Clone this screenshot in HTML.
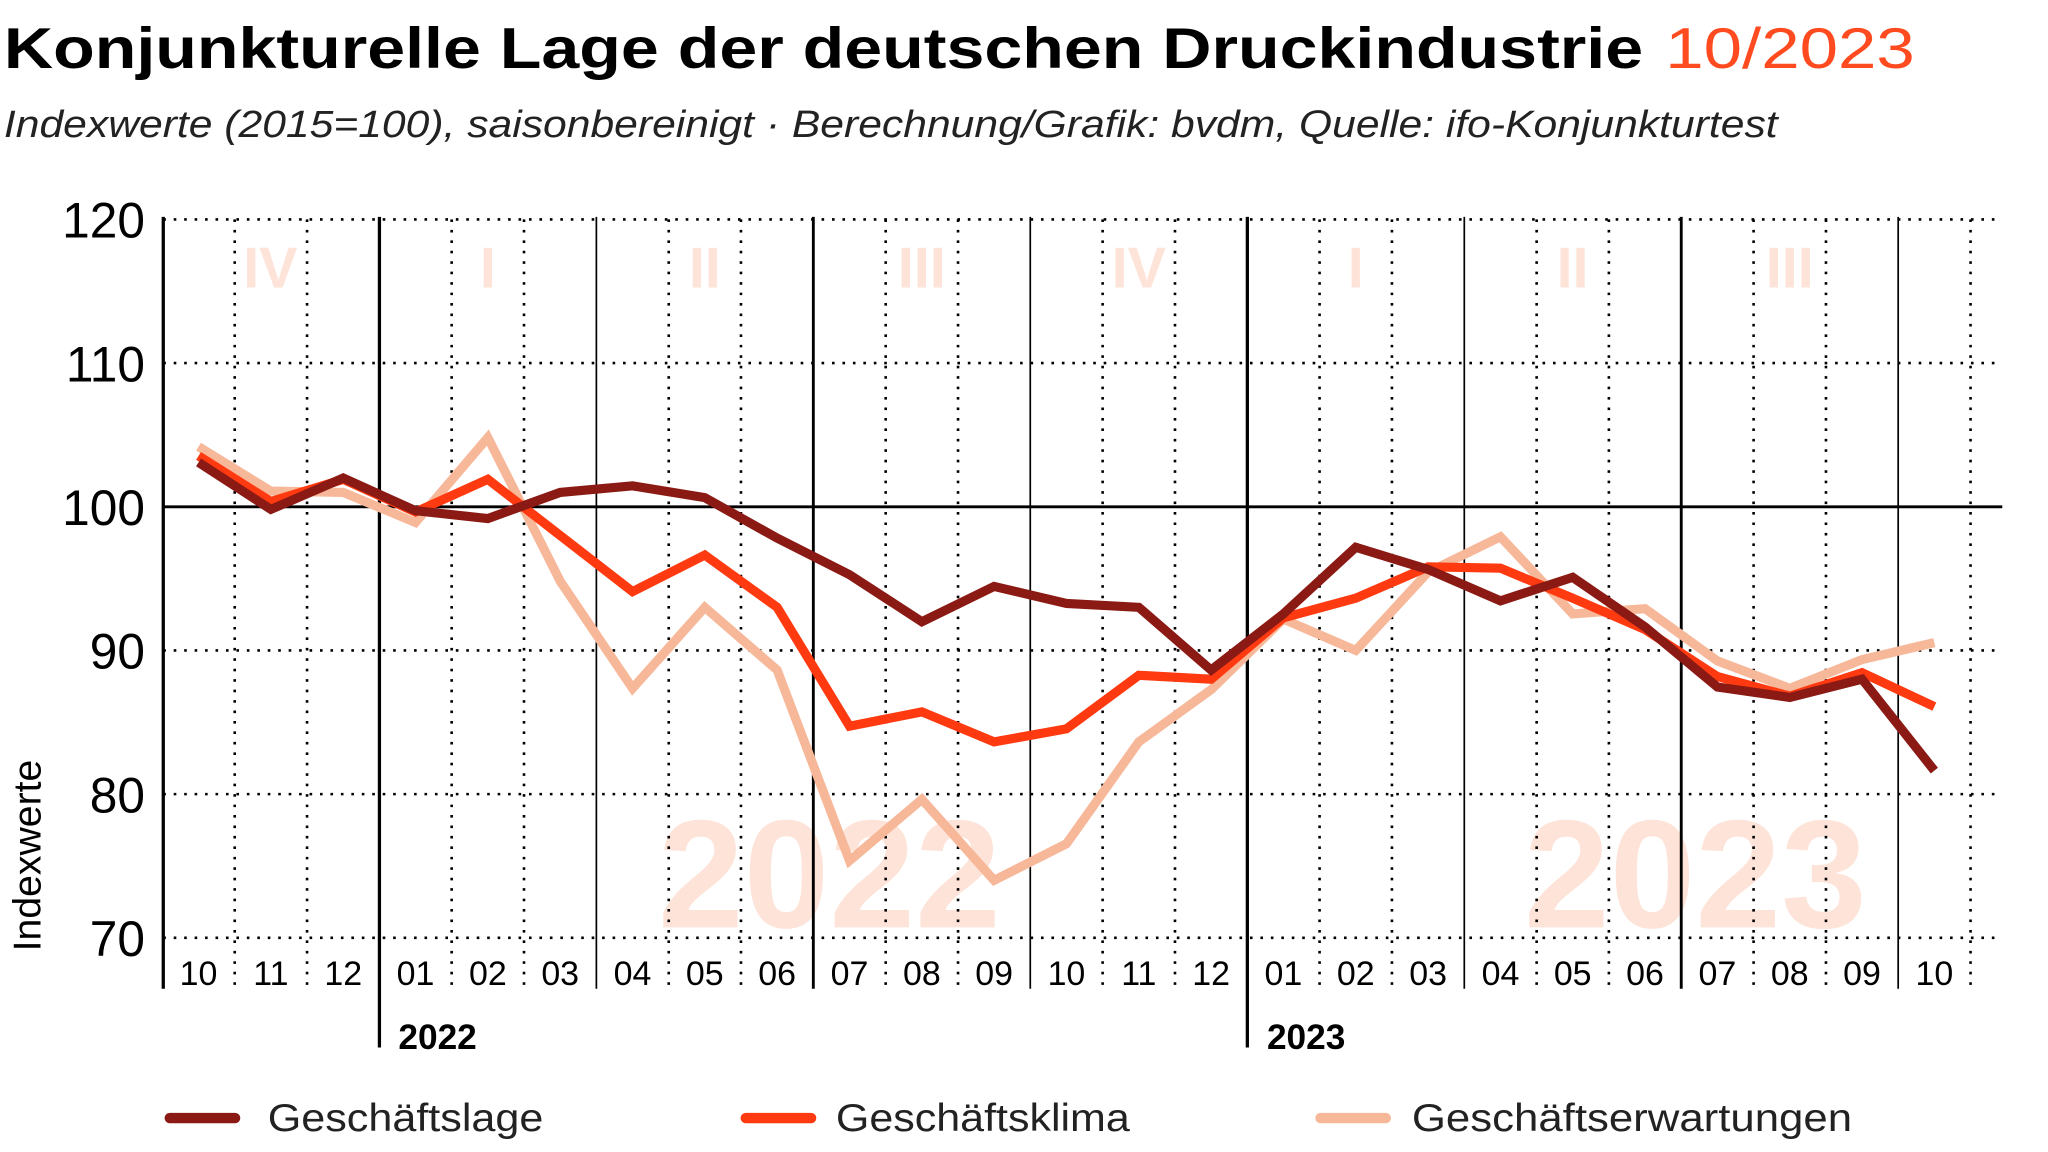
<!DOCTYPE html>
<html><head><meta charset="utf-8"><style>
html,body{margin:0;padding:0;background:#fff;width:2048px;height:1152px;overflow:hidden}
svg{display:block}
text{font-family:"Liberation Sans",sans-serif}
</style></head><body>
<svg width="2048" height="1152" viewBox="0 0 1568 882" preserveAspectRatio="none" xmlns="http://www.w3.org/2000/svg">
<text x="3" y="52" font-size="44" font-weight="bold" fill="#000" textLength="1255" lengthAdjust="spacingAndGlyphs">Konjunkturelle Lage der deutschen Druckindustrie</text>
<text x="1275" y="52" font-size="44" fill="#ff4b1f" textLength="191" lengthAdjust="spacingAndGlyphs">10/2023</text>
<text x="3" y="105" font-size="29" font-style="italic" fill="#222" textLength="1358" lengthAdjust="spacingAndGlyphs">Indexwerte (2015=100), saisonbereinigt · Berechnung/Grafik: bvdm, Quelle: ifo-Konjunkturtest</text>

<g fill="#fde3d8" font-weight="bold" text-anchor="middle">
<text x="635" y="710" font-size="118">2022</text>
<text x="1298" y="710" font-size="118">2023</text>
<g font-size="44">
<text x="207" y="220">IV</text><text x="373.5" y="220">I</text><text x="539.6" y="220">II</text><text x="705.8" y="220">III</text>
<text x="871.9" y="220">IV</text><text x="1038" y="220">I</text><text x="1204" y="220">II</text><text x="1370.3" y="220">III</text>
</g></g>

<g stroke="#000" stroke-width="2" stroke-dasharray="2 6">
<line x1="125" y1="168" x2="1533" y2="168"/><line x1="125" y1="278" x2="1533" y2="278"/>
<line x1="125" y1="498" x2="1533" y2="498"/><line x1="125" y1="608" x2="1533" y2="608"/>
<line x1="125" y1="718" x2="1533" y2="718"/>
</g>
<line x1="125" y1="388" x2="1533" y2="388" stroke="#000" stroke-width="2.2"/>
<g stroke="#000" stroke-width="2" stroke-dasharray="2 6">
<line x1="179.7" y1="168" x2="179.7" y2="757"/><line x1="235.1" y1="168" x2="235.1" y2="757"/>
<line x1="345.8" y1="168" x2="345.8" y2="757"/><line x1="401.2" y1="168" x2="401.2" y2="757"/>
<line x1="512" y1="168" x2="512" y2="757"/><line x1="567.3" y1="168" x2="567.3" y2="757"/>
<line x1="678.1" y1="168" x2="678.1" y2="757"/><line x1="733.5" y1="168" x2="733.5" y2="757"/>
<line x1="844.2" y1="168" x2="844.2" y2="757"/><line x1="899.6" y1="168" x2="899.6" y2="757"/>
<line x1="1010.3" y1="168" x2="1010.3" y2="757"/><line x1="1065.7" y1="168" x2="1065.7" y2="757"/>
<line x1="1176.5" y1="168" x2="1176.5" y2="757"/><line x1="1231.8" y1="168" x2="1231.8" y2="757"/>
<line x1="1342.6" y1="168" x2="1342.6" y2="757"/><line x1="1398" y1="168" x2="1398" y2="757"/>
<line x1="1508.7" y1="168" x2="1508.7" y2="757"/>
</g>
<g stroke="#000">
<line x1="125" y1="166" x2="125" y2="757" stroke-width="2.5"/>
<line x1="290.5" y1="166" x2="290.5" y2="802" stroke-width="2.5"/>
<line x1="955" y1="166" x2="955" y2="802" stroke-width="2.5"/>
<line x1="622.7" y1="166" x2="622.7" y2="757" stroke-width="2.2"/>
<line x1="1287.2" y1="166" x2="1287.2" y2="757" stroke-width="2.2"/>
<line x1="456.6" y1="166" x2="456.6" y2="757" stroke-width="1.3"/>
<line x1="788.8" y1="166" x2="788.8" y2="757" stroke-width="1.3"/>
<line x1="1121.1" y1="166" x2="1121.1" y2="757" stroke-width="1.3"/>
<line x1="1453.3" y1="166" x2="1453.3" y2="757" stroke-width="1.3"/>
</g>

<g font-size="38" text-anchor="end" fill="#000">
<text x="111" y="182">120</text><text x="111" y="292">110</text><text x="111" y="402">100</text>
<text x="111" y="512">90</text><text x="111" y="622">80</text><text x="111" y="732">70</text>
</g>
<text transform="translate(31,655) rotate(-90)" font-size="30" text-anchor="middle" fill="#000">Indexwerte</text>

<g font-size="26" text-anchor="middle" fill="#000">
<text x="152" y="754">10</text><text x="207.4" y="754">11</text><text x="262.8" y="754">12</text>
<text x="318.1" y="754">01</text><text x="373.5" y="754">02</text><text x="428.9" y="754">03</text>
<text x="484.3" y="754">04</text><text x="539.6" y="754">05</text><text x="595" y="754">06</text>
<text x="650.4" y="754">07</text><text x="705.8" y="754">08</text><text x="761.1" y="754">09</text>
<text x="816.5" y="754">10</text><text x="871.9" y="754">11</text><text x="927.3" y="754">12</text>
<text x="982.6" y="754">01</text><text x="1038" y="754">02</text><text x="1093.4" y="754">03</text>
<text x="1148.8" y="754">04</text><text x="1204.1" y="754">05</text><text x="1259.5" y="754">06</text>
<text x="1314.9" y="754">07</text><text x="1370.3" y="754">08</text><text x="1425.6" y="754">09</text>
<text x="1481" y="754">10</text>
</g>
<g font-size="27" font-weight="bold" fill="#000">
<text x="305" y="803">2022</text><text x="970" y="803">2023</text>
</g>

<g fill="none" stroke-width="7" stroke-linejoin="miter" stroke-linecap="butt">
<polyline stroke="#f7b89a" points="152,342 207.4,376 262.8,377 318.1,400 373.5,335 428.9,445 484.3,527 539.6,465 595,513 650.4,659 705.8,612 761.1,674 816.5,646 871.9,568 927.3,528 982.6,474 1038,498 1093.4,438 1148.8,411 1204.1,470 1259.5,466 1314.9,506 1370.3,527 1425.6,505 1481,492"/>
<polyline stroke="#ff3a10" points="152,349 207.4,384 262.8,367 318.1,392 373.5,367 428.9,410 484.3,453 539.6,425 595,465 650.4,556 705.8,545 761.1,568 816.5,558 871.9,517 927.3,520 982.6,473 1038,458 1093.4,434 1148.8,435 1204.1,458 1259.5,482 1314.9,518 1370.3,533 1425.6,515 1481,541"/>
<polyline stroke="#8b1a14" points="152,354 207.4,390 262.8,366 318.1,391 373.5,397 428.9,377 484.3,372 539.6,381 595,412 650.4,440 705.8,476 761.1,449 816.5,462 871.9,465 927.3,513 982.6,470 1038,419 1093.4,436 1148.8,460 1204.1,442 1259.5,480 1314.9,526 1370.3,534 1425.6,520 1481,590"/>
</g>

<g stroke-width="8" stroke-linecap="round">
<line x1="130" y1="856" x2="180" y2="856" stroke="#8b1a14"/>
<line x1="571" y1="856" x2="621" y2="856" stroke="#ff3a10"/>
<line x1="1011" y1="856" x2="1061" y2="856" stroke="#f7b89a"/>
</g>
<g font-size="30" fill="#222">
<text x="205" y="866" textLength="211" lengthAdjust="spacingAndGlyphs">Geschäftslage</text>
<text x="640" y="866" textLength="225" lengthAdjust="spacingAndGlyphs">Geschäftsklima</text>
<text x="1081" y="866" textLength="337" lengthAdjust="spacingAndGlyphs">Geschäftserwartungen</text>
</g>
</svg>
</body></html>
